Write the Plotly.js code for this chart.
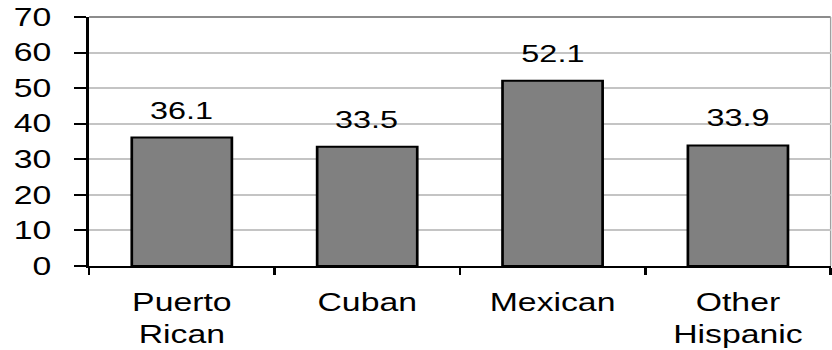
<!DOCTYPE html>
<html>
<head>
<meta charset="utf-8">
<script src="https://cdn.plot.ly/plotly-3.0.1.min.js"></script>
<style>
  html, body { margin: 0; padding: 0; background: #ffffff; overflow: hidden; }
  #wrap { width: 832px; height: 350px; overflow: hidden; }
  /* the chart is laid out narrower and widened horizontally, giving the broad lettering */
  #chart { width: 616px; height: 350px; transform: scaleX(1.3506); transform-origin: 0 0; }
</style>
</head>
<body>
<div id="wrap"><div id="chart"></div></div>
<script>
// Categories and their values
const categories = ["Puerto<br>Rican", "Cuban", "Mexican", "Other<br>Hispanic"];
const values = [36.1, 33.5, 52.1, 33.9];
const valueLabels = ["36.1", "33.5", "52.1", "33.9"];
const yTicks = [0, 10, 20, 30, 40, 50, 60, 70];

const font = "'Liberation Sans', Arial, sans-serif";

const trace = {
  type: "bar",
  x: categories,
  y: values,
  marker: { color: "#808080", line: { color: "#000000", width: 2 } },
  hoverinfo: "none"
};

// value labels sitting above each bar
const annotations = categories.map((c, i) => ({
  x: c, y: values[i], xref: "x", yref: "y",
  text: valueLabels[i], showarrow: false,
  yanchor: "bottom", yshift: 12,
  font: { family: font, size: 24, color: "#000000" }
}));

const layout = {
  width: 616, height: 350,
  margin: { l: 66, r: 1, t: 17, b: 84 },
  paper_bgcolor: "#ffffff", plot_bgcolor: "#ffffff",
  showlegend: false,
  bargap: 0.46,
  font: { family: font, color: "#000000" },
  xaxis: {
    type: "category",
    showline: true, linecolor: "#000000", linewidth: 2,
    ticks: "outside", tickson: "boundaries", ticklen: 7, tickwidth: 2, tickcolor: "#000000",
    ticklabelstandoff: 13,
    showgrid: false, zeroline: false,
    tickfont: { family: font, size: 25, color: "#000000" },
    fixedrange: true
  },
  yaxis: {
    range: [0, 70],
    tickvals: yTicks,
    ticktext: yTicks.map(String),
    showline: true, linecolor: "#000000", linewidth: 2,
    ticks: "outside", ticklen: 9, tickwidth: 2, tickcolor: "#000000",
    ticklabelstandoff: 12,
    showgrid: true, gridcolor: "#c4c4c4", gridwidth: 2,
    zeroline: false,
    tickfont: { family: font, size: 25, color: "#000000" },
    fixedrange: true
  },
  shapes: [
    { type: "line", xref: "paper", yref: "paper", x0: 0, x1: 1, y0: 1, y1: 1,
      line: { color: "#8c8c8c", width: 2 }, layer: "below" },
    { type: "line", xref: "paper", yref: "paper", x0: 1, x1: 1, y0: 0, y1: 1,
      line: { color: "#a0a0a0", width: 1 }, layer: "below" }
  ],
  annotations: annotations
};

Plotly.newPlot("chart", [trace], layout, { staticPlot: true, displayModeBar: false });
</script>
</body>
</html>
